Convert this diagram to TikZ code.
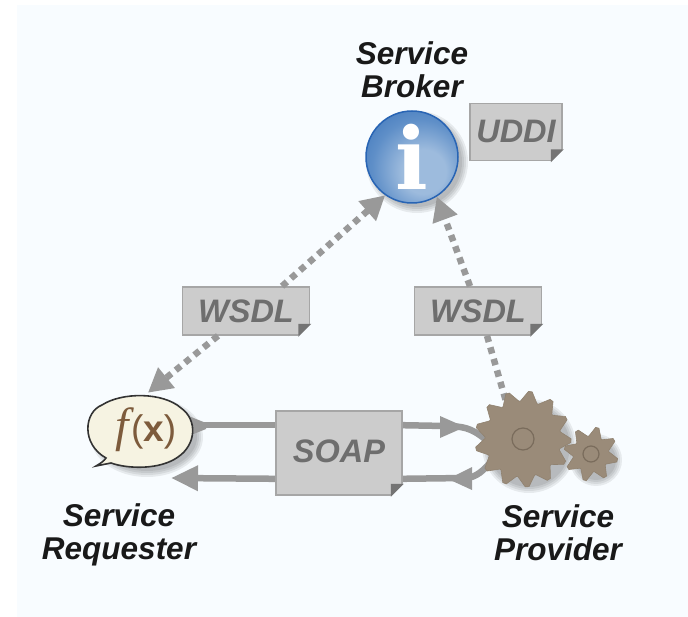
\documentclass[tikz,border=0pt]{standalone}
\usepackage{fontspec}
\setmainfont{Liberation Sans}
\newfontfamily\serifi{Liberation Serif}
\newfontfamily\serifd{DejaVu Serif}
\usetikzlibrary{arrows.meta,shapes.geometric,calc}
\definecolor{panel}{HTML}{F8FCFF}
\definecolor{boxfill}{HTML}{CCCCCC}
\definecolor{boxline}{HTML}{A6A6A6}
\definecolor{boxtext}{HTML}{6E6E6E}
\definecolor{arrowgray}{HTML}{999999}
\definecolor{gearfill}{HTML}{9A8B79}
\definecolor{gearline}{HTML}{7A6C5C}
\definecolor{bubblefill}{HTML}{F6F3E2}
\definecolor{fxbrown}{HTML}{7D5B3C}
\definecolor{ballA}{HTML}{9DBBDD}
\definecolor{ballB}{HTML}{5F8FC8}
\definecolor{ballC}{HTML}{1F5FB0}
\pgfdeclareradialshading{infoball}{\pgfpoint{8bp}{-10bp}}{
  color(0bp)=(ballA);color(12bp)=(ballA);color(26bp)=(ballB);color(50bp)=(ballC);color(60bp)=(ballC)}
\tikzset{
  x=1pt,y=-1pt,
  actor/.style={font=\bfseries\itshape\fontsize{31.5}{33}\selectfont,align=center,text=black!90,inner sep=0pt},
  docbox/.style={draw=boxline,line width=1.6pt,fill=boxfill,text=boxtext,inner sep=0pt,font=\bfseries\itshape\fontsize{32.5}{34}\selectfont},
  solidlink/.style={draw=arrowgray,line width=6.5pt,-{Triangle[length=27pt,width=24pt,fill=arrowgray]}},
  plainlink/.style={draw=arrowgray,line width=6.5pt},
  dotlink/.style={draw=arrowgray,line width=6.5pt,dash pattern=on 6.5pt off 5.5pt,-{Triangle[length=24pt,width=25pt,fill=arrowgray]}},
  dotplain/.style={draw=arrowgray,line width=6.5pt,dash pattern=on 6.5pt off 5.5pt},
  softshadow/.style={fill=black,opacity=.07,draw=none},
  gearstyle/.style={fill=gearfill,draw=gearline!30!gearfill,line width=.6pt,line join=round},
}
\newcommand{\foldmark}[1]{%
  \fill[panel] ($(#1.south east)+(-13,1)$) -- ($(#1.south east)+(1,1)$) -- ($(#1.south east)+(1,-13)$) -- cycle;
  \fill[boxline!70!black] ($(#1.south east)+(-12,-12)$) -- ($(#1.south east)+(1,-12)$) -- ($(#1.south east)+(-12,1)$) -- cycle;
}
\newcommand{\gearshape}[6]{% cx cy outer inner teeth phase
  \pgfmathsetmacro{\gstep}{360/#5}
  \gdef\gearpts{}
  \foreach \gi in {1,...,#5} {
    \foreach \gf/\gr in {.04/#4,.42/#3,.58/#3,.96/#4} {
      \pgfmathsetmacro{\ga}{#6+(\gi-1+\gf)*\gstep}
      \pgfmathsetmacro{\gx}{#1+\gr*cos(\ga)}
      \pgfmathsetmacro{\gy}{#2+\gr*sin(\ga)}
      \xdef\gearpts{\gearpts (\gx,\gy) -- }
    }
  }
  \edef\gearcmd{\noexpand\filldraw[gearstyle] \gearpts cycle;}
  \gearcmd
}
\begin{document}
\begin{tikzpicture}
\useasboundingbox (0,0) rectangle (688,617);
\fill[white] (0,0) rectangle (688,617);
\fill[panel] (17,5) rectangle (688,617);

% shadows
\foreach \s in {0,2,4,6}{
  \fill[softshadow] (417,162) circle ({45+\s});
  \fill[softshadow] (147,437) ellipse ({50+\s} and {34+\s});
  \fill[softshadow] (529,446) circle ({41+\s});
  \fill[softshadow] (596,460) circle ({20+\s});
}

% broker
\node[circle,minimum size=92pt,inner sep=0pt,draw={rgb,255:red,40;green,100;blue,180},line width=1.5pt,
  shading=infoball] (broker) at (412,157) {};
\node[font=\serifd\bfseries\fontsize{86}{86}\selectfont,text=white,inner sep=0pt] (infoi) at (412,157) {i};

\node[actor] (brokerlabel) at (412,69.5) {Service\\Broker};
\node[actor] (reqlabel) at (119,535) {Service\\Requester};
\node[actor] (provlabel) at (558,533) {Service\\Provider};

% anchors of the two actors
\coordinate (bubblec) at (142,430);
\node[circle,minimum size=75pt,inner sep=0pt] (reqanchor) at (142,430) {};
\node[circle,minimum size=76pt,inner sep=0pt] (provider) at (523,439) {};

% SOAP
\node[docbox,minimum width=126pt,minimum height=84pt] (soap) at (339,453) {\raisebox{4pt}{SOAP}};
\coordinate (soapTL) at ($(soap.north west)+(0,15)$);
\coordinate (soapBL) at ($(soap.south west)+(0,-17)$);
\coordinate (soapTR) at ($(soap.north east)+(0,15)$);
\coordinate (soapBR) at ($(soap.south east)+(0,-17)$);
\draw[plainlink] (reqanchor.east|-soapTL) -- (soapTL);
\fill[arrowgray] (186,415) -- (206,423) -- (206,429) -- (186,437) -- cycle;
\draw[solidlink] (soapBL) -- (171,478);
\draw[plainlink] (soapTR) -- (445,426) .. controls (462,426) and (472,428) .. (provider.180);
\fill[arrowgray] (440,416) -- (465,427) -- (440,438) -- cycle;
\draw[plainlink] (provider.215) .. controls (484,470) and (476,478) .. (465,478) -- (soapBR);
\fill[arrowgray] (472,467) -- (448,479) -- (472,490) -- cycle;

% document boxes
\node[docbox,minimum width=92pt,minimum height=57pt] (uddi) at (516,132) {\raisebox{2pt}{UDDI}};
\node[docbox,minimum width=127pt,minimum height=48pt] (wsdlA) at (246,311) {WSDL};
\node[docbox,minimum width=127pt,minimum height=48pt] (wsdlB) at (478,311) {WSDL};
\foldmark{uddi}\foldmark{wsdlA}\foldmark{wsdlB}\foldmark{soap}

% WSDL links
\draw[dotlink] ([xshift=36pt]wsdlA.north) -- (broker.235);
\draw[dotlink] ([xshift=-28pt]wsdlA.south) -- (reqanchor.81);
\draw[dotlink] ([xshift=-8pt]wsdlB.north) -- (broker.302);
\draw[dotplain] ([xshift=9pt]wsdlB.south) -- (provider.115);

% requester bubble
\draw[fill=bubblefill,draw=black!80,line width=1.6pt]
  (106,458) .. controls (81,444) and (84,412) .. (102,405)
  .. controls (122,392) and (163,392) .. (181,408)
  .. controls (198,420) and (196,445) .. (178,457)
  .. controls (160,470) and (128,469) .. (111,463)
  -- (96,466) .. controls (101,463) and (104,461) .. (106,458) -- cycle;
\node[inner sep=0pt,text=fxbrown] (requester) at (146,430)
  {\serifi\itshape\fontsize{48}{48}\selectfont f\hspace{2pt}\setmainfont{Liberation Sans}\normalfont\fontsize{37}{37}\selectfont (\textbf{x})};

% provider gears
\gearshape{591}{454}{27}{18}{8}{-99}
\gearshape{523}{439}{48}{38}{13}{-95}
\draw[gearline,line width=1.2pt] (523,439) circle (11);
\draw[gearline,line width=1.2pt] (591,454) circle (8);
\end{tikzpicture}
\end{document}
